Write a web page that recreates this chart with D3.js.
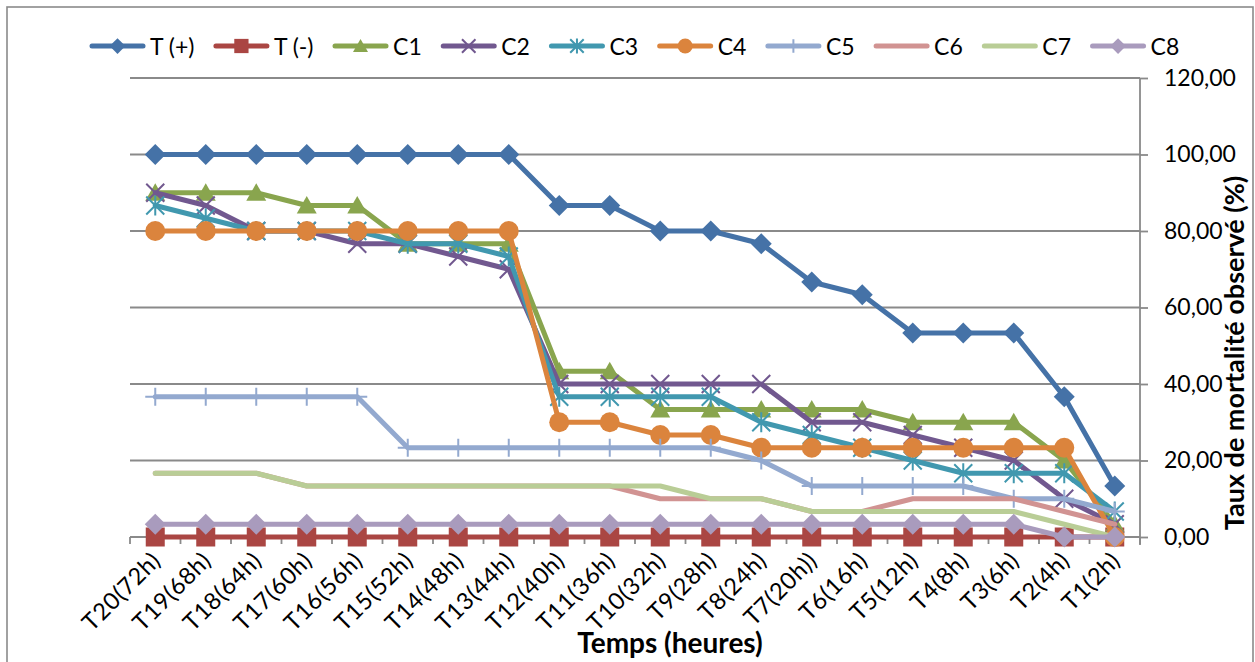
<!DOCTYPE html>
<html>
<head>
<meta charset="utf-8">
<script src="https://cdn.jsdelivr.net/npm/d3@7"></script>
<style>
  html, body { margin: 0; padding: 0; background: #fff; }
  svg { display: block; font-family: Lato, "Open Sans", sans-serif; }
</style>
</head>
<body>
<svg id="chart" width="1255" height="662"></svg>
<script>
// Time points (hours before the end of the test)
const categories = ["T20(72h)", "T19(68h)", "T18(64h)", "T17(60h)", "T16(56h)", "T15(52h)", "T14(48h)",
  "T13(44h)", "T12(40h)", "T11(36h)", "T10(32h)", "T9(28h)", "T8(24h)", "T7(20h))", "T6(16h)",
  "T5(12h)", "T4(8h)", "T3(6h)", "T2(4h)", "T1(2h)"];

const seriesNames = ["T (+)", "T (-)", "C1", "C2", "C3", "C4", "C5", "C6", "C7", "C8"];

// Observed mortality (%) per series
const tPlus  = [100, 100, 100, 100, 100, 100, 100, 100, 86.67, 86.67, 80, 80, 76.67, 66.67, 63.33, 53.33, 53.33, 53.33, 36.67, 13.33];
const tMinus = [0, 0, 0, 0, 0, 0, 0, 0, 0, 0, 0, 0, 0, 0, 0, 0, 0, 0, 0, 0];
const c1 = [90, 90, 90, 86.67, 86.67, 76.67, 76.67, 76.67, 43.33, 43.33, 33.33, 33.33, 33.33, 33.33, 33.33, 30, 30, 30, 20, 3.33];
const c2 = [90, 86.67, 80, 80, 76.67, 76.67, 73.33, 70, 40, 40, 40, 40, 40, 30, 30, 26.67, 23.33, 20, 10, 3.33];
const c3 = [86.67, 83.33, 80, 80, 80, 76.67, 76.67, 73.33, 36.67, 36.67, 36.67, 36.67, 30, 26.67, 23.33, 20, 16.67, 16.67, 16.67, 6.67];
const c4 = [80, 80, 80, 80, 80, 80, 80, 80, 30, 30, 26.67, 26.67, 23.33, 23.33, 23.33, 23.33, 23.33, 23.33, 23.33, 0];
const c5 = [36.67, 36.67, 36.67, 36.67, 36.67, 23.33, 23.33, 23.33, 23.33, 23.33, 23.33, 23.33, 20, 13.33, 13.33, 13.33, 13.33, 10, 10, 6.67];
const c6 = [16.67, 16.67, 16.67, 13.33, 13.33, 13.33, 13.33, 13.33, 13.33, 13.33, 10, 10, 10, 6.67, 6.67, 10, 10, 10, 6.67, 3.33];
const c7 = [16.67, 16.67, 16.67, 13.33, 13.33, 13.33, 13.33, 13.33, 13.33, 13.33, 13.33, 10, 10, 6.67, 6.67, 6.67, 6.67, 6.67, 3.33, 0];
const c8 = [3.33, 3.33, 3.33, 3.33, 3.33, 3.33, 3.33, 3.33, 3.33, 3.33, 3.33, 3.33, 3.33, 3.33, 3.33, 3.33, 3.33, 3.33, 0, 0];

const yTicks = [0, 20, 40, 60, 80, 100, 120];

const seriesValues = [tPlus, tMinus, c1, c2, c3, c4, c5, c6, c7, c8];

// Styling
const colors = ["#4572A7", "#AA4643", "#89A54E", "#71588F", "#4198AF", "#DB843D", "#93A9CF", "#D19392", "#B9CD96", "#A99BBD"];
const markerTypes = ["diamond", "square", "triangle", "x", "asterisk", "circle", "plus", null, null, "diamond"];

const svg = d3.select("#chart");
const gridColor = "#8a8a8a";

const plot = { left: 130, right: 1140, top: 78, bottom: 537 };

const x = d3.scaleBand().domain(categories).range([plot.left, plot.right]).padding(0);
const cx = d => x(d) + x.bandwidth() / 2;
const y = d3.scaleLinear().domain([0, 120]).range([plot.bottom, plot.top]);

// Outer frame
svg.append("rect")
  .attr("x", 7).attr("y", 7).attr("width", 1246).attr("height", 680)
  .attr("fill", "#fff").attr("stroke", gridColor).attr("stroke-width", 1.6);

// Horizontal gridlines
svg.append("g").selectAll("line").data(yTicks.filter(d => d > 0)).join("line")
  .attr("x1", plot.left).attr("x2", plot.right)
  .attr("y1", d => y(d)).attr("y2", d => y(d))
  .attr("stroke", gridColor).attr("stroke-width", 1.8);

// Right value axis
const fmt = d => d3.format(".2f")(d).replace(".", ",");
const yAxis = svg.append("g")
  .attr("transform", `translate(${plot.right},0)`)
  .call(d3.axisRight(y).tickValues(yTicks).tickSize(8).tickSizeOuter(0).tickPadding(16).tickFormat(fmt));
yAxis.select(".domain").attr("stroke", gridColor).attr("stroke-width", 1.8)
  .attr("d", `M0,${plot.top}V${plot.bottom + 8}`);
yAxis.selectAll(".tick line").attr("stroke", gridColor).attr("stroke-width", 1.8);
yAxis.selectAll(".tick text")
  .attr("font-family", "Lato, sans-serif").attr("font-size", 23).attr("fill", "#000");

// Category axis: baseline, boundary ticks, rotated labels
svg.append("line")
  .attr("x1", plot.left).attr("x2", plot.right)
  .attr("y1", plot.bottom).attr("y2", plot.bottom)
  .attr("stroke", gridColor).attr("stroke-width", 1.8);
svg.append("g").selectAll("line").data(d3.range(categories.length + 1)).join("line")
  .attr("x1", i => plot.left + i * x.step()).attr("x2", i => plot.left + i * x.step())
  .attr("y1", plot.bottom).attr("y2", plot.bottom + 7)
  .attr("stroke", gridColor).attr("stroke-width", 1.8);
svg.append("g").selectAll("text").data(categories).join("text")
  .attr("transform", d => `translate(${cx(d) + 7},${plot.bottom + 25}) rotate(-45)`)
  .attr("text-anchor", "end")
  .attr("font-size", 23.5).attr("letter-spacing", 0.7).attr("fill", "#000")
  .text(d => d);

// Axis titles
svg.append("text")
  .attr("x", 670).attr("y", 653)
  .attr("text-anchor", "middle").attr("font-weight", "bold").attr("font-size", 28)
  .text("Temps (heures)");
svg.append("text")
  .attr("transform", "translate(1244,353) rotate(-90)")
  .attr("text-anchor", "middle").attr("font-weight", "bold").attr("font-size", 27)
  .text("Taux de mortalité observé (%)");

// Marker drawing
function drawMarker(g, type, color, s) {
  if (!type) return;
  if (type === "diamond") {
    g.append("path").attr("d", `M0,${-10.5 * s}L${10.5 * s},0L0,${10.5 * s}L${-10.5 * s},0Z`).attr("fill", color);
  } else if (type === "square") {
    g.append("rect").attr("x", -9.5 * s).attr("y", -9.5 * s).attr("width", 19 * s).attr("height", 19 * s).attr("fill", color);
  } else if (type === "triangle") {
    g.append("path").attr("d", `M0,${-9.5 * s}L${10 * s},${8 * s}L${-10 * s},${8 * s}Z`).attr("fill", color);
  } else if (type === "circle") {
    g.append("circle").attr("r", 10 * s).attr("fill", color);
  } else if (type === "x") {
    g.append("path").attr("d", `M${-9 * s},${-9 * s}L${9 * s},${9 * s}M${9 * s},${-9 * s}L${-9 * s},${9 * s}`)
      .attr("stroke", color).attr("stroke-width", 2).attr("fill", "none");
  } else if (type === "asterisk") {
    g.append("path").attr("d", `M${-9 * s},${-9 * s}L${9 * s},${9 * s}M${9 * s},${-9 * s}L${-9 * s},${9 * s}M0,${-10 * s}L0,${10 * s}`)
      .attr("stroke", color).attr("stroke-width", 2).attr("fill", "none");
  } else if (type === "plus") {
    g.append("path").attr("d", `M0,${-9 * s}L0,${9 * s}M${-10 * s},0L${10 * s},0`)
      .attr("stroke", color).attr("stroke-width", 2).attr("fill", "none");
  }
}

// Series lines and markers, drawn in series order
const line = d3.line().x((v, i) => cx(categories[i])).y(v => y(v));
seriesValues.forEach((vals, si) => {
  const g = svg.append("g");
  g.append("path").attr("d", line(vals))
    .attr("fill", "none").attr("stroke", colors[si]).attr("stroke-width", 5)
    .attr("stroke-linejoin", "round").attr("stroke-linecap", "round");
  vals.forEach((v, i) => {
    const m = g.append("g").attr("transform", `translate(${cx(categories[i])},${y(v)})`);
    drawMarker(m, markerTypes[si], colors[si], 1);
  });
});

// Legend across the top
let lx = 90;
const ly = 46;
seriesNames.forEach((name, si) => {
  const g = svg.append("g").attr("transform", `translate(${lx},${ly})`);
  g.append("line").attr("x1", 2).attr("x2", 53).attr("y1", 0).attr("y2", 0)
    .attr("stroke", colors[si]).attr("stroke-width", 5).attr("stroke-linecap", "round");
  const m = g.append("g").attr("transform", "translate(27.5,0)");
  drawMarker(m, markerTypes[si], colors[si], 0.75);
  const t = g.append("text").attr("x", 60).attr("y", 8.5)
    .attr("font-size", 23).attr("fill", "#000").text(name);
  lx += 60 + t.node().getComputedTextLength() + 19.5;
});
</script>
</body>
</html>
